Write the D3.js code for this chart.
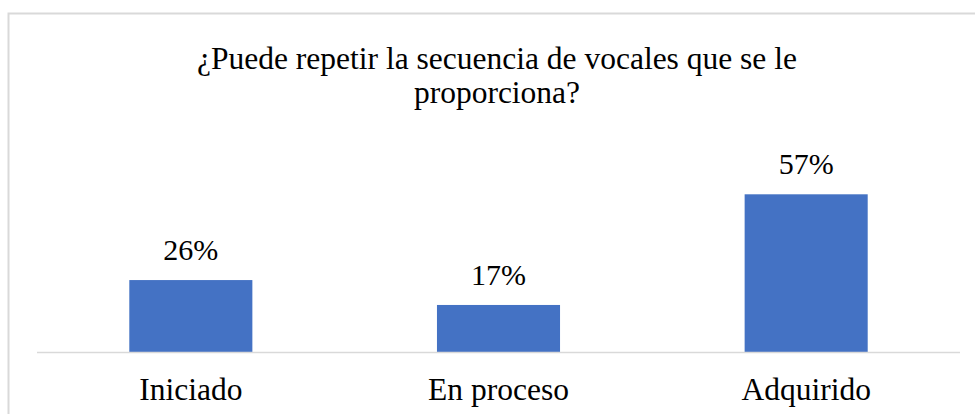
<!DOCTYPE html>
<html>
<head>
<meta charset="utf-8">
<script src="https://cdn.jsdelivr.net/npm/d3@7"></script>
<style>
  body { margin: 0; background: #fff; }
  text { font-family: "Liberation Serif", "Times New Roman", serif; fill: #000; }
</style>
</head>
<body>
<div id="chart"></div>
<script>
const categories = ['Iniciado', 'En proceso', 'Adquirido'];
const values = [26, 17, 57];
const titleLines = ['¿Puede repetir la secuencia de vocales que se le', 'proporciona?'];

const width = 975;
const height = 414;

const svg = d3.select('#chart')
    .append('svg')
    .attr('width', width)
    .attr('height', height);

// marco del gráfico (cortado abajo y a la derecha)
svg.append('rect')
    .attr('x', 8.5)
    .attr('y', 13.5)
    .attr('width', 1000)
    .attr('height', 500)
    .attr('fill', 'none')
    .attr('stroke', '#d9d9d9')
    .attr('stroke-width', 2);

const x = d3.scaleBand()
    .domain(categories)
    .range([37, 960])
    .paddingInner(0.6)
    .paddingOuter(0.3);

const y = d3.scaleLinear()
    .domain([0, 60])
    .range([352, 186]);

svg.selectAll('.title')
    .data(titleLines)
    .enter()
    .append('text')
    .attr('class', 'title')
    .attr('x', 497)
    .attr('y', (d, i) => 69 + i * 34)
    .attr('text-anchor', 'middle')
    .attr('font-size', 31.5)
    .text(d => d);

svg.selectAll('.bar')
    .data(values)
    .enter()
    .append('rect')
    .attr('class', 'bar')
    .attr('x', (d, i) => x(categories[i]))
    .attr('y', d => y(d))
    .attr('width', x.bandwidth())
    .attr('height', d => y(0) - y(d))
    .attr('fill', '#4472c4');

svg.selectAll('.value')
    .data(values)
    .enter()
    .append('text')
    .attr('class', 'value')
    .attr('x', (d, i) => x(categories[i]) + x.bandwidth() / 2)
    .attr('y', d => y(d) - 20)
    .attr('text-anchor', 'middle')
    .attr('font-size', 30)
    .text(d => `${d}%`);

// eje horizontal
svg.append('line')
    .attr('x1', 37)
    .attr('x2', 960)
    .attr('y1', y(0) + 0.5)
    .attr('y2', y(0) + 0.5)
    .attr('stroke', '#d9d9d9')
    .attr('stroke-width', 1.5);

svg.selectAll('.category')
    .data(categories)
    .enter()
    .append('text')
    .attr('class', 'category')
    .attr('x', d => x(d) + x.bandwidth() / 2)
    .attr('y', 400)
    .attr('text-anchor', 'middle')
    .attr('font-size', 31.5)
    .text(d => d);
</script>
</body>
</html>
